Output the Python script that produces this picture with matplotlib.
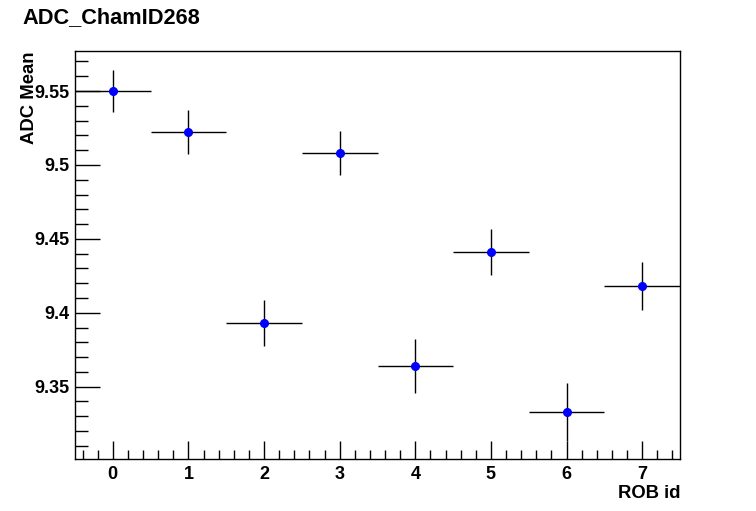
import matplotlib
matplotlib.use("Agg")
import matplotlib.pyplot as plt
from matplotlib.ticker import MultipleLocator, FuncFormatter

rob_id = [0, 1, 2, 3, 4, 5, 6, 7]
adc_mean = [9.550, 9.522, 9.393, 9.508, 9.364, 9.441, 9.333, 9.418]
adc_err = [0.0144, 0.0149, 0.0155, 0.0148, 0.0185, 0.0155, 0.0197, 0.0161]
bin_halfwidth = [0.5] * 8

title = "ADC_ChamID268"
xlabel = "ROB id"
ylabel = "ADC Mean"

plt.rcParams['font.family'] = ['Liberation Sans', 'DejaVu Sans']
plt.rcParams['font.weight'] = 'bold'

fig = plt.figure(figsize=(7.56, 5.11), dpi=100)
ax = fig.add_axes([75/756, 52/511, 605/756, 408/511])

ax.errorbar(rob_id, adc_mean, yerr=adc_err, xerr=bin_halfwidth, fmt='o',
            color='black', ecolor='black', elinewidth=1.0, capsize=0,
            markerfacecolor='#0000ff', markeredgecolor='#0000ff', markersize=5.5,
            clip_on=True, zorder=3)

ax.set_xlim(-0.5, 7.5)
ax.set_ylim(9.3011, 9.5771)

ax.xaxis.set_major_locator(MultipleLocator(1))
ax.xaxis.set_minor_locator(MultipleLocator(0.2))
ax.yaxis.set_major_locator(MultipleLocator(0.05))
ax.yaxis.set_minor_locator(MultipleLocator(0.01))
ax.yaxis.set_major_formatter(FuncFormatter(lambda v, p: '%g' % round(v, 3)))
ax.xaxis.set_major_formatter(FuncFormatter(lambda v, p: '%d' % round(v)))

ax.tick_params(axis='both', which='both', direction='in', top=False, right=False,
               labelsize=13, width=1.0, color='black')
ax.tick_params(axis='y', which='major', length=18, pad=4)
ax.tick_params(axis='y', which='minor', length=9)
ax.tick_params(axis='x', which='major', length=12.7, pad=5)
ax.tick_params(axis='x', which='minor', length=6.7)
for lab in ax.get_xticklabels() + ax.get_yticklabels():
    lab.set_fontweight('bold')

for s in ax.spines.values():
    s.set_linewidth(1.0)
    s.set_color('black')

fig.text(22/756, 1 - 18/511, title, fontsize=15.7, fontweight='bold', ha='left', va='center')
fig.text(680/756, 1 - 493/511, xlabel, fontsize=13.3, fontweight='bold', ha='right', va='center')
fig.text(29/756, 1 - 51/511, ylabel, fontsize=13.3, fontweight='bold', ha='center', va='top', rotation=90)

fig.savefig("out.png", dpi=100)
